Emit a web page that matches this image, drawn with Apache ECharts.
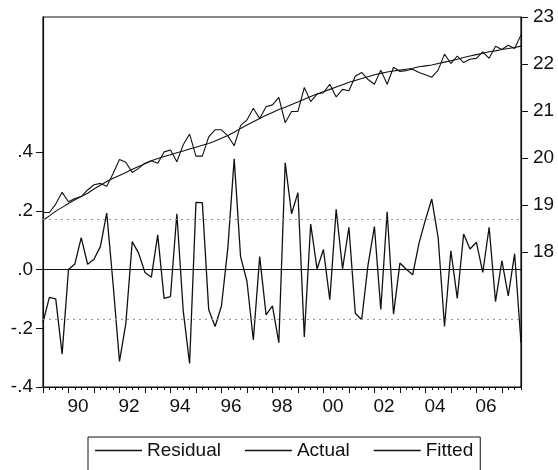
<!DOCTYPE html>
<html>
<head>
<meta charset="utf-8">
<script src="https://cdn.jsdelivr.net/npm/echarts@6/dist/echarts.min.js"></script>
<style>html,body{margin:0;padding:0;background:#fff;}#c{width:558px;height:470px;}</style>
</head>
<body>
<div id="c"></div>
<script>
// 1989Q1 .. 2007Q4
const startYear = 1989;
const nObs = 76;
const quarters = [];
for (let i = 0; i < nObs; i++) quarters.push((startYear + Math.floor(i / 4)) + 'Q' + (i % 4 + 1));

const residual = [
 -0.18,-0.095,-0.10,-0.288,0.00,0.019,0.109,0.018,0.035,0.078,
 0.192,-0.05,-0.313,-0.183,0.095,0.056,-0.01,-0.026,0.118,-0.098,
 -0.092,0.19,-0.14,-0.32,0.229,0.228,-0.137,-0.194,-0.124,0.073,
 0.377,0.044,-0.04,-0.24,0.044,-0.154,-0.124,-0.249,0.364,0.19,
 0.262,-0.23,0.155,0.002,0.068,-0.103,0.205,0.002,0.144,-0.149,
 -0.171,0.016,0.146,-0.136,0.197,-0.152,0.022,0.001,-0.018,0.09,
 0.169,0.24,0.109,-0.194,0.064,-0.098,0.121,0.07,0.093,-0.01,
 0.144,-0.109,0.03,-0.09,0.054,-0.25
];
const actual = [
 18.84,18.84,19.02,19.27,19.07,19.14,19.18,19.32,19.43,19.46,
 19.40,19.67,19.97,19.91,19.69,19.78,19.89,19.94,19.89,20.13,
 20.17,19.92,20.28,20.51,20.04,20.04,20.45,20.60,20.60,20.47,
 20.26,20.69,20.81,21.06,20.84,21.09,21.13,21.29,20.75,20.99,
 20.99,21.50,21.20,21.36,21.39,21.57,21.30,21.46,21.43,21.74,
 21.82,21.67,21.57,21.87,21.57,21.93,21.84,21.86,21.89,21.82,
 21.77,21.72,21.87,22.21,22.01,22.17,22.03,22.10,22.12,22.26,
 22.12,22.38,22.31,22.40,22.33,22.62
];
const fitted = [
 18.67,18.77,18.87,18.95,19.03,19.11,19.18,19.25,19.34,19.42,
 19.50,19.57,19.63,19.69,19.76,19.82,19.88,19.94,19.99,20.03,
 20.07,20.11,20.15,20.19,20.23,20.27,20.31,20.36,20.42,20.48,
 20.55,20.63,20.70,20.77,20.84,20.91,20.97,21.03,21.08,21.14,
 21.19,21.25,21.31,21.36,21.41,21.46,21.51,21.56,21.61,21.65,
 21.69,21.73,21.77,21.80,21.83,21.85,21.87,21.89,21.91,21.94,
 21.96,21.98,22.01,22.04,22.07,22.10,22.14,22.17,22.20,22.23,
 22.26,22.28,22.31,22.33,22.35,22.38
];
const leftTicks = [-0.4, -0.2, 0, 0.2, 0.4];
const rightTicks = [18, 19, 20, 21, 22, 23];
const xTickLabels = ['90','92','94','96','98','00','02','04','06'];
const residualBand = [0.167, -0.167];

// year-centre positions (index units) for labels, year-start positions for long ticks
const xLabelPos = xTickLabels.map((l, k) => 5.5 + k * 8);
const yearStarts = [];
for (let i = 0; i < nObs; i += 4) yearStarts.push(i);
const labelMap = {};
xLabelPos.forEach((p, k) => { labelMap[p] = xTickLabels[k]; });

const font = "'Liberation Sans', Arial, sans-serif";
const black = '#111';

const chart = echarts.init(document.getElementById('c'), null, {renderer: 'canvas'});
chart.setOption({
  animation: false,
  backgroundColor: '#fff',
  textStyle: {fontFamily: font, color: black},
  grid: {left: 43, right: 37, top: 17, bottom: 83, show: true, borderColor: black, borderWidth: 1.2, backgroundColor: 'transparent'},
  legend: {
    data: ['Residual', 'Actual', 'Fitted'],
    left: 88, top: 437,
    orient: 'horizontal',
    itemWidth: 47, itemHeight: 1.5, itemGap: 24,
    icon: 'rect',
    padding: [4, 7, 22, 7],
    borderColor: black, borderWidth: 1,
    textStyle: {fontFamily: font, fontSize: 19, color: black},
    itemStyle: {color: black},
    selectedMode: false
  },
  xAxis: [
    {
      type: 'category', data: quarters, boundaryGap: false, gridIndex: 0, position: 'bottom',
      axisLine: {show: true, onZero: false, lineStyle: {color: black, width: 1.2}},
      axisTick: {show: true, interval: 0, length: 3, inside: false, lineStyle: {color: black, width: 1}},
      axisLabel: {show: false},
      splitLine: {show: false}
    },
    {
      type: 'value', min: 0, max: nObs - 1, gridIndex: 0, position: 'bottom',
      axisLine: {show: false, onZero: false},
      axisTick: {show: true, customValues: yearStarts, length: 6, inside: false, lineStyle: {color: black, width: 1}},
      axisLabel: {show: true, customValues: xLabelPos, margin: 10, fontSize: 19, fontFamily: font, color: black,
        formatter: v => labelMap[v] !== undefined ? labelMap[v] : ''},
      splitLine: {show: false}
    }
  ],
  yAxis: [
    {
      type: 'value', min: -0.4, max: 0.86, position: 'left',
      axisLine: {show: true, onZero: false, lineStyle: {color: black, width: 1.2}},
      axisTick: {show: true, customValues: leftTicks, length: 7, lineStyle: {color: black, width: 1}},
      axisLabel: {customValues: leftTicks, margin: 10, fontSize: 19, fontFamily: font, color: black,
        formatter: v => {
          const r = Math.round(v * 10);
          if (r === 0) return '.0';
          return (r < 0 ? '-' : '') + '.' + Math.abs(r);
        }},
      splitLine: {show: false}
    },
    {
      type: 'value', min: 15.128, max: 23, position: 'right',
      axisLine: {show: true, onZero: false, lineStyle: {color: black, width: 1.2}},
      axisTick: {show: true, customValues: rightTicks, length: 7, lineStyle: {color: black, width: 1}},
      axisLabel: {customValues: rightTicks, margin: 12, fontSize: 19, fontFamily: font, color: black},
      splitLine: {show: false}
    }
  ],
  series: [
    {
      name: 'Residual', type: 'line', xAxisIndex: 0, yAxisIndex: 0, data: residual,
      symbol: 'none', lineStyle: {color: black, width: 1.3}, itemStyle: {color: black},
      z: 3,
      markLine: {
        silent: true, symbol: 'none', label: {show: false}, animation: false,
        data: [
          {yAxis: 0, lineStyle: {color: black, width: 1.2, type: 'solid'}},
          {yAxis: residualBand[0], lineStyle: {color: '#999', width: 1, type: [2, 4]}},
          {yAxis: residualBand[1], lineStyle: {color: '#999', width: 1, type: [2, 4]}}
        ]
      }
    },
    {
      name: 'Actual', type: 'line', xAxisIndex: 0, yAxisIndex: 1, data: actual,
      symbol: 'none', lineStyle: {color: black, width: 1.1}, itemStyle: {color: black}
    },
    {
      name: 'Fitted', type: 'line', xAxisIndex: 0, yAxisIndex: 1, data: fitted,
      symbol: 'none', lineStyle: {color: black, width: 1.1}, itemStyle: {color: black}
    }
  ]
});
</script>
</body>
</html>
